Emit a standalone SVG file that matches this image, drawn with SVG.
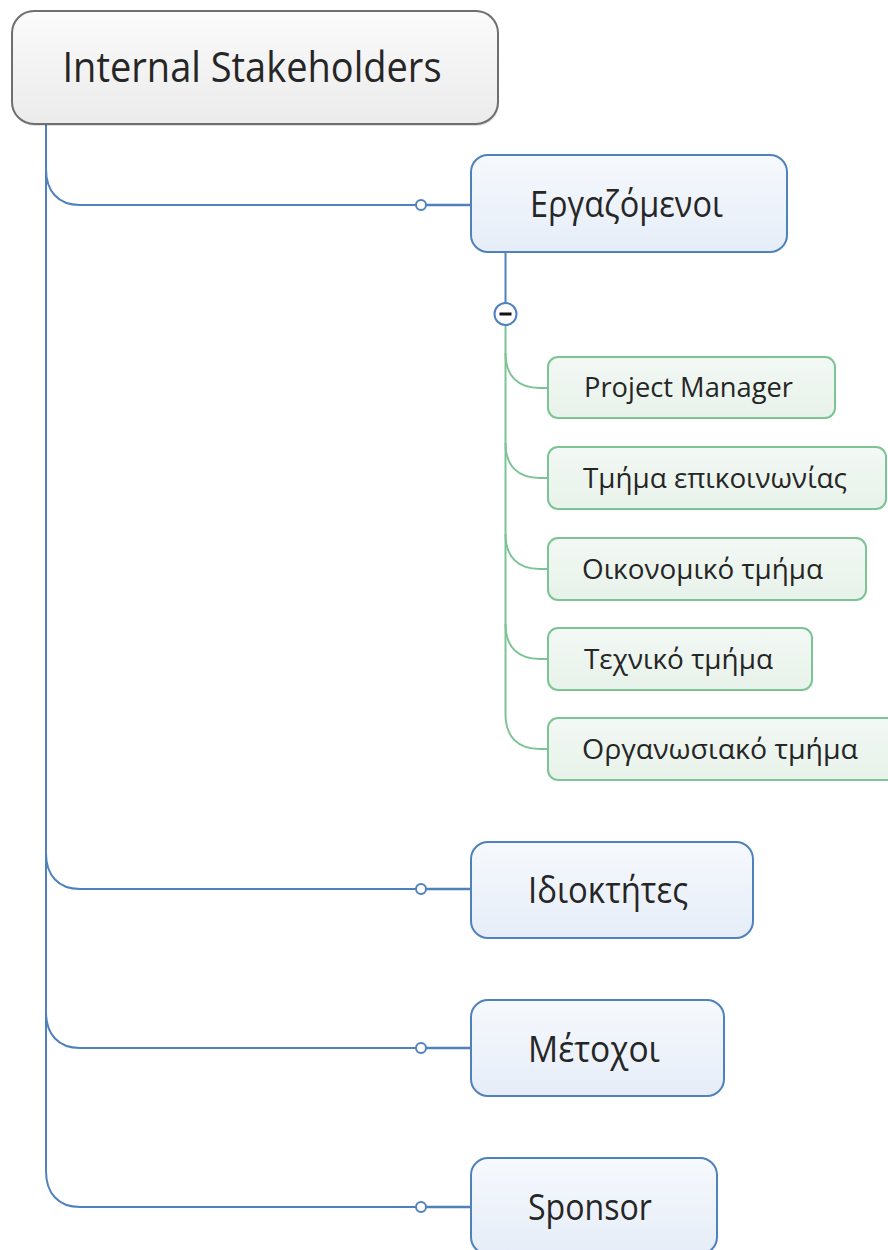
<svg xmlns="http://www.w3.org/2000/svg" width="888" height="1250" viewBox="0 0 888 1250">
  <defs>
    <linearGradient id="gRoot" x1="0" y1="0" x2="0" y2="1">
      <stop offset="0" stop-color="#fbfbfb"/>
      <stop offset="1" stop-color="#ebebeb"/>
    </linearGradient>
    <linearGradient id="gBlue" x1="0" y1="0" x2="0" y2="1">
      <stop offset="0" stop-color="#f6f9fd"/>
      <stop offset="1" stop-color="#e6edf8"/>
    </linearGradient>
    <linearGradient id="gGreen" x1="0" y1="0" x2="0" y2="1">
      <stop offset="0" stop-color="#f3f8f4"/>
      <stop offset="1" stop-color="#e7f2ea"/>
    </linearGradient>
  </defs>
  <style>
    .txt { font-family: "Open Sans", "Noto Sans", "Liberation Sans", sans-serif; fill: #262626; text-anchor: middle; }
    .root-box { fill: url(#gRoot); stroke: #6f6f6f; stroke-width: 2; }
    .blue-box { fill: url(#gBlue); stroke: #4f81bd; stroke-width: 2; }
    .green-box { fill: url(#gGreen); stroke: #7cc495; stroke-width: 2; }
    .shadow { fill: #000; opacity: 0.12; }
    .blue-line { fill: none; stroke: #4f81bd; stroke-width: 2; }
    .blue-stub { fill: none; stroke: #4f81bd; stroke-width: 2.6; }
    .green-line { fill: none; stroke: #7cc495; stroke-width: 2; }
    .knob { fill: #ffffff; stroke: #4f81bd; stroke-width: 2; }
  </style>

  <!-- connectors -->
  <g id="connectors">
    <!-- main trunk from the root -->
    <path class="blue-line" d="M46,125 L46,1171"/>
    <!-- branches to the first-level topics -->
    <path class="blue-line" d="M46,169 C46,191 58,205 80,205 L416,205"/>
    <path class="blue-line" d="M46,853 C46,875 58,889 80,889 L416,889"/>
    <path class="blue-line" d="M46,1012 C46,1034 58,1048 80,1048 L416,1048"/>
    <path class="blue-line" d="M46,1171 C46,1193 58,1207 80,1207 L416,1207"/>
    <path class="blue-stub" d="M426,205 L471,205"/>
    <path class="blue-stub" d="M426,889 L471,889"/>
    <path class="blue-stub" d="M426,1048 L471,1048"/>
    <path class="blue-stub" d="M426,1207 L471,1207"/>
    <circle class="knob" cx="421" cy="205" r="5"/>
    <circle class="knob" cx="421" cy="889" r="5"/>
    <circle class="knob" cx="421" cy="1048" r="5"/>
    <circle class="knob" cx="421" cy="1207" r="5"/>

    <!-- sub-branch under Εργαζόμενοι -->
    <path class="blue-line" d="M505.5,253 L505.5,303"/>
    <path class="green-line" d="M505.5,325 L505.5,714"/>
    <path class="green-line" d="M505.5,353 C505.5,376 518,388 540,388 L548,388"/>
    <path class="green-line" d="M505.5,443 C505.5,466 518,478 540,478 L548,478"/>
    <path class="green-line" d="M505.5,534 C505.5,557 518,569 540,569 L548,569"/>
    <path class="green-line" d="M505.5,624 C505.5,647 518,659 540,659 L548,659"/>
    <path class="green-line" d="M505.5,714 C505.5,737 518,749 540,749 L548,749"/>
    <!-- collapse toggle -->
    <circle class="knob" cx="505.5" cy="314" r="11"/>
    <rect x="499.5" y="312.5" width="12" height="3" fill="#111"/>
  </g>

  <!-- root topic -->
  <g id="node-root">
    <rect class="shadow" x="13" y="13" width="486" height="113" rx="22"/>
    <rect class="root-box" x="12" y="11" width="486" height="113" rx="22"/>
    <text class="txt" x="252" y="82" font-size="42" textLength="379" lengthAdjust="spacingAndGlyphs">Internal Stakeholders</text>
  </g>

  <!-- first-level topics -->
  <g id="node-ergazomenoi">
    <rect class="blue-box" x="471" y="155" width="316" height="97" rx="17"/>
    <text class="txt" x="626.5" y="217" font-size="36" textLength="193" lengthAdjust="spacingAndGlyphs">Εργαζόμενοι</text>
  </g>
  <g id="node-idioktites">
    <rect class="blue-box" x="471" y="842" width="282" height="96" rx="17"/>
    <text class="txt" x="608" y="903" font-size="36" textLength="160" lengthAdjust="spacingAndGlyphs">Ιδιοκτήτες</text>
  </g>
  <g id="node-metochoi">
    <rect class="blue-box" x="471" y="1000" width="253" height="96" rx="17"/>
    <text class="txt" x="594" y="1062" font-size="36" textLength="132" lengthAdjust="spacingAndGlyphs">Μέτοχοι</text>
  </g>
  <g id="node-sponsor">
    <rect class="blue-box" x="471" y="1158" width="246" height="96" rx="17"/>
    <text class="txt" x="590" y="1220" font-size="36" textLength="124" lengthAdjust="spacingAndGlyphs">Sponsor</text>
  </g>

  <!-- second-level topics -->
  <g id="node-project-manager">
    <rect class="green-box" x="548" y="357" width="287" height="61" rx="10"/>
    <text class="txt" x="688.5" y="397" font-size="28" textLength="209" lengthAdjust="spacingAndGlyphs">Project Manager</text>
  </g>
  <g id="node-tmima-epikoinonias">
    <rect class="green-box" x="548" y="447" width="338" height="62" rx="10"/>
    <text class="txt" x="715" y="488" font-size="28" textLength="264" lengthAdjust="spacingAndGlyphs">Τμήμα επικοινωνίας</text>
  </g>
  <g id="node-oikonomiko">
    <rect class="green-box" x="548" y="538" width="318" height="62" rx="10"/>
    <text class="txt" x="702.5" y="579" font-size="28" textLength="241" lengthAdjust="spacingAndGlyphs">Οικονομικό τμήμα</text>
  </g>
  <g id="node-techniko">
    <rect class="green-box" x="548" y="628" width="264" height="62" rx="10"/>
    <text class="txt" x="678.5" y="669" font-size="28" textLength="189" lengthAdjust="spacingAndGlyphs">Τεχνικό τμήμα</text>
  </g>
  <g id="node-organosiako">
    <rect class="green-box" x="548" y="718" width="350" height="62" rx="10"/>
    <text class="txt" x="720" y="759" font-size="28" textLength="276" lengthAdjust="spacingAndGlyphs">Οργανωσιακό τμήμα</text>
  </g>
</svg>
